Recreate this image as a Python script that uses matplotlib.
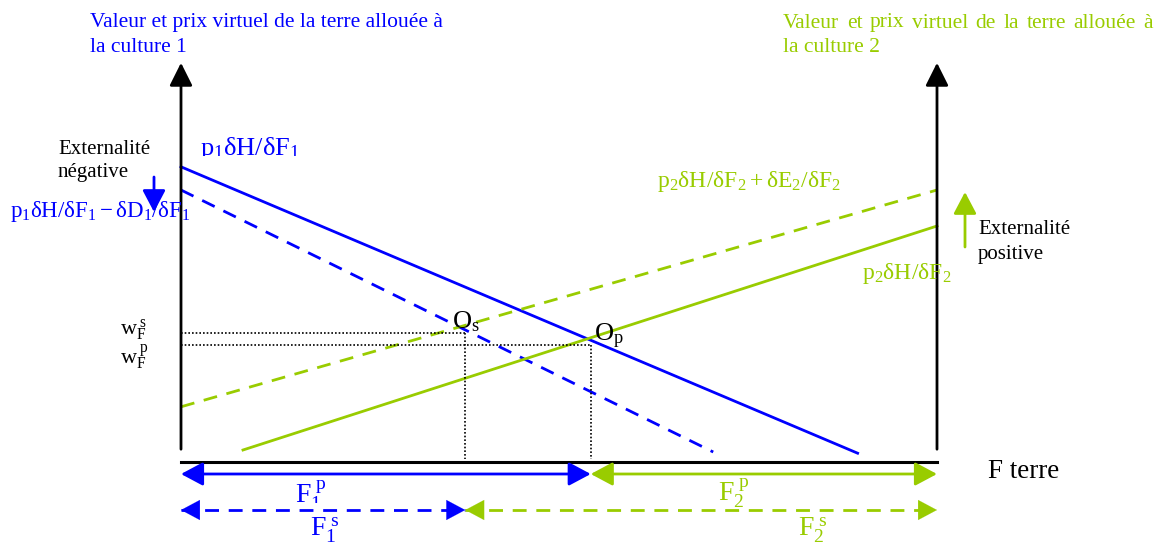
import matplotlib
matplotlib.use("Agg")
import matplotlib.pyplot as plt
from matplotlib.transforms import Bbox, TransformedBbox

plt.rcParams['font.family'] = ['Liberation Serif', 'DejaVu Serif']
plt.rcParams['mathtext.fontset'] = 'custom'
plt.rcParams['mathtext.rm'] = 'Liberation Serif'
plt.rcParams['mathtext.it'] = 'Liberation Serif:italic'

BLUE = '#0000FF'
GREEN = '#99CC00'

# land axis F goes from 0 (culture 1 side) to 100 (culture 2 side)
F_TOTAL = 100
V_TOP = 99.8

# marginal value curves (F, value)
mv1_F = [0, 89.5]
mv1_V = [73.8, 2.2]
mv1_ext_F = [0, 70.4]
mv1_ext_V = [68.0, 2.5]
mv2_F = [8.2, 100]
mv2_V = [3.0, 59.0]
mv2_ext_F = [0, 100]
mv2_ext_V = [13.8, 68.0]

# equilibria
F1_private = 54.2
F1_social = 37.6
w_private = 29.3
w_social = 32.3


# pixel helper for label placement only
def at(xp, yp):
    return (xp - 181) / 7.56, (462 - yp) / 4.0


fig = plt.figure(figsize=(11.61, 5.48), dpi=100)
ax = fig.add_axes([0, 0, 1, 1])
ax.set_xlim(at(0, 0)[0], at(1161, 0)[0])
ax.set_ylim(at(0, 548)[1], at(0, 0)[1])
ax.axis('off')


def arrow(x0, y0, x1, y1, color, style='-|>', lw=2.0, ms=18, hl=0.75, hw=0.4):
    ax.annotate('', xy=(x1, y1), xytext=(x0, y0),
                arrowprops=dict(arrowstyle='%s,head_length=%g,head_width=%g' % (style, hl, hw),
                                color=color, lw=lw, mutation_scale=ms,
                                shrinkA=0, shrinkB=0))


def dashed_arrow(x0, x1, y, color):
    ax.plot([x0, x1], [y, y], color=color, lw=2, dashes=(5, 3.5))
    hl = 2.0
    arrow(x0 + hl, y, x0, y, color, lw=0.1)
    arrow(x1 - hl, y, x1, y, color, lw=0.1)


# axes
arrow(0, 3.2, 0, V_TOP, 'black', lw=2, ms=14, hl=1.0, hw=0.5)
arrow(F_TOTAL, 3.2, F_TOTAL, V_TOP, 'black', lw=2, ms=14, hl=1.0, hw=0.5)
ax.plot([0, F_TOTAL], [0, 0], color='black', lw=2.2)

# curves
ax.plot(mv1_F, mv1_V, color=BLUE, lw=2)
ax.plot(mv1_ext_F, mv1_ext_V, color=BLUE, lw=2, dashes=(5, 3.5))
ax.plot(mv2_F, mv2_V, color=GREEN, lw=2)
ax.plot(mv2_ext_F, mv2_ext_V, color=GREEN, lw=2, dashes=(5, 3.5))

# equilibrium guides
dots = (0, (1, 1.2))
ax.plot([0, F1_social], [w_social, w_social], color='black', lw=1.2, ls=dots)
ax.plot([0, F1_private], [w_private, w_private], color='black', lw=1.2, ls=dots)
ax.plot([F1_social, F1_social], [w_social, 0.8], color='black', lw=1.2, ls=dots)
ax.plot([F1_private, F1_private], [w_private, 0.8], color='black', lw=1.2, ls=dots)

# land allocation arrows
row_p = at(0, 474)[1]
row_s = at(0, 510)[1]
arrow(0, row_p, F1_private, row_p, BLUE, style='<|-|>')
arrow(F1_private, row_p, F_TOTAL, row_p, GREEN, style='<|-|>')
dashed_arrow(0, F1_social, row_s, BLUE)
dashed_arrow(F1_social, F_TOTAL, row_s, GREEN)

# externality arrows
x, y0 = at(154, 177)
arrow(x, y0, x, at(154, 212)[1], BLUE, lw=2, ms=14, hl=0.95, hw=0.5)
x, y0 = at(965, 247)
arrow(x, y0, x, at(965, 192)[1], GREEN, lw=2, ms=14, hl=0.95, hw=0.5)


def label(xp, yp, s, color='black', size=15, ha='left', va='center', clip_y=None):
    t = ax.text(*at(xp, yp), s, color=color, fontsize=size, ha=ha, va=va)
    if clip_y is not None:
        bb = Bbox([[at(0, clip_y)[0], at(0, clip_y)[1]], [at(1161, 0)[0], at(0, 0)[1]]])
        t.set_clip_box(TransformedBbox(bb, ax.transData))
        t.set_clip_on(True)
    return t


def justified(xp0, xp1, yp, s, color, size):
    # spread the words so the line runs from xp0 to xp1
    words = s.split(' ')
    rend = fig.canvas.get_renderer()
    texts = [label(xp0, yp, w, color, size) for w in words]
    widths = [t.get_window_extent(rend).width for t in texts]
    gap = (xp1 - xp0 - sum(widths)) / (len(words) - 1)
    pos = xp0
    for t, w in zip(texts, widths):
        t.set_position(at(pos, yp))
        pos += w + gap


# titles
label(90, 23, 'Valeur et prix virtuel de la terre allouée à', BLUE, 15.5)
label(90, 48, 'la culture 1', BLUE, 15.5)
justified(783, 1153, 23, 'Valeur et prix virtuel de la terre allouée à', GREEN, 15.5)
label(783, 48, 'la culture 2', GREEN, 15.5)

# curve labels
label(200, 148, r'$\mathrm{p_1\delta H/\delta F_1}$', BLUE, 19, clip_y=156)
label(10, 212, r'$\mathrm{p_1\delta H/\delta F_1 - \delta D_1/\delta F_1}$', BLUE, 16.5)
label(657, 181, r'$\mathrm{p_2\delta H/\delta F_2 + \delta E_2/\delta F_2}$', GREEN, 17)
label(862, 273, r'$\mathrm{p_2\delta H/\delta F_2}$', GREEN, 17)

label(58, 150, 'Externalité', size=15)
label(58, 173, 'négative', size=15)
label(978, 229, 'Externalité', size=15)
label(978, 254, 'positive', size=15)

# equilibrium points and prices
label(452, 322, r'$\mathrm{O_s}$', size=19)
label(594, 336, r'$\mathrm{O_p}$', size=19, clip_y=347)
label(120, 330, r'$\mathrm{w_F^{\ s}}$', size=16)
label(120, 357, r'$\mathrm{w_F^{\ p}}$', size=16)

# allocation labels
label(295, 495, r'$\mathrm{F_1^{\ p}}$', BLUE, 20, clip_y=503)
label(310, 530, r'$\mathrm{F_1^{\ s}}$', BLUE, 20)
label(718, 493, r'$\mathrm{F_2^{\ p}}$', GREEN, 20)
label(798, 530, r'$\mathrm{F_2^{\ s}}$', GREEN, 20)
label(988, 471, 'F terre', size=19.5)

fig.savefig('out.png', dpi=100)
